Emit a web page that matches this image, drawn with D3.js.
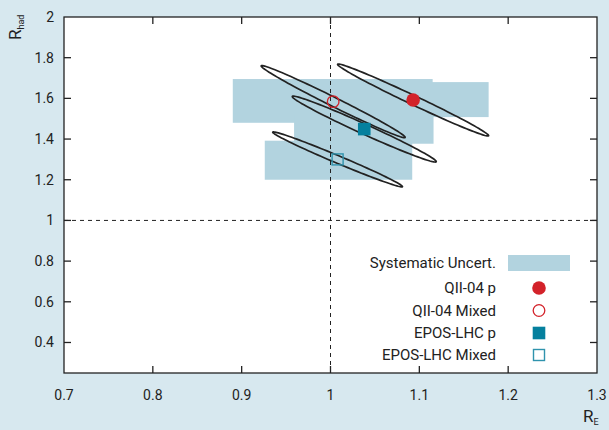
<!DOCTYPE html>
<html><head><meta charset="utf-8">
<script src="https://cdn.jsdelivr.net/npm/d3@7"></script>
<style>
html,body{margin:0;padding:0;background:#d7e8ef;}
svg{display:block;font-family:Roboto,"DejaVu Sans",sans-serif;}
</style></head>
<body>
<svg id="chart" width="609" height="430"></svg>
<script>
// ---- data ----
const series = ["QII-04 p", "QII-04 Mixed", "EPOS-LHC p", "EPOS-LHC Mixed"];
const rE   = [1.093, 1.003, 1.038, 1.008];
const rHad = [1.592, 1.584, 1.449, 1.300];
// systematic uncertainty boxes
const sysXLow  = [1.007, 0.890, 0.959, 0.926];
const sysXHigh = [1.178, 1.115, 1.116, 1.092];
const sysYLow  = [1.508, 1.480, 1.377, 1.200];
const sysYHigh = [1.680, 1.695, 1.522, 1.392];
// statistical ellipses (sigma x, sigma y, correlation)
const ellSx  = [0.085, 0.081, 0.081, 0.073];
const ellSy  = [0.177, 0.177, 0.162, 0.135];
const ellRho = [-0.990, -0.990, -0.986, -0.989];
const xTicks = [0.7, 0.8, 0.9, 1, 1.1, 1.2, 1.3];
const yTicks = [0.4, 0.6, 0.8, 1, 1.2, 1.4, 1.6, 1.8, 2];
const legendLabels = ["Systematic Uncert.", "QII-04 p", "QII-04 Mixed", "EPOS-LHC p", "EPOS-LHC Mixed"];

// ---- layout ----
const L = 64, R = 597, T = 17, B = 373;
const red = "#d3222a", teal = "#05809e", tealLight = "#2f93ad", sysCol = "#b2d3df";
const svg = d3.select("#chart");
const x = d3.scaleLinear().domain([0.7, 1.3]).range([L, R]);
const y = d3.scaleLinear().domain([0.25, 2]).range([B, T]);

svg.append("rect").attr("width", 609).attr("height", 430).attr("fill", "#d7e8ef");
svg.append("rect").attr("x", L).attr("y", T).attr("width", R - L).attr("height", B - T).attr("fill", "#fff");

// systematic boxes
const idx = d3.range(series.length);
svg.append("g").selectAll("rect").data(idx).join("rect")
  .attr("x", i => x(sysXLow[i])).attr("width", i => x(sysXHigh[i]) - x(sysXLow[i]))
  .attr("y", i => y(sysYHigh[i])).attr("height", i => y(sysYLow[i]) - y(sysYHigh[i]))
  .attr("fill", sysCol);

// dashed reference lines
svg.append("line").attr("x1", x(1)).attr("x2", x(1)).attr("y1", T).attr("y2", B)
  .attr("stroke", "#222").attr("stroke-width", 1).attr("stroke-dasharray", "4,4");
svg.append("line").attr("x1", L).attr("x2", R).attr("y1", y(1)).attr("y2", y(1))
  .attr("stroke", "#222").attr("stroke-width", 1).attr("stroke-dasharray", "4,4");

// ellipses
const line = d3.line().x(d => x(d[0])).y(d => y(d[1]));
svg.append("g").selectAll("path").data(idx).join("path")
  .attr("d", i => {
    const pts = d3.range(0, 361, 3).map(a => {
      const t = a * Math.PI / 180;
      return [rE[i] + ellSx[i] * Math.cos(t),
              rHad[i] + ellSy[i] * (ellRho[i] * Math.cos(t) + Math.sqrt(1 - ellRho[i] * ellRho[i]) * Math.sin(t))];
    });
    return line(pts) + "Z";
  })
  .attr("fill", "none").attr("stroke", "#222").attr("stroke-width", 1.7);

// markers
function drawMarker(g, i, cx, cy) {
  if (i === 0) g.append("circle").attr("cx", cx).attr("cy", cy).attr("r", 6.8).attr("fill", red);
  else if (i === 1) g.append("circle").attr("cx", cx).attr("cy", cy).attr("r", 5.8).attr("fill", "none").attr("stroke", red).attr("stroke-width", 1.3);
  else if (i === 2) g.append("rect").attr("x", cx - 6.3).attr("y", cy - 6.3).attr("width", 12.6).attr("height", 12.6).attr("fill", teal);
  else g.append("rect").attr("x", cx - 5.5).attr("y", cy - 5.5).attr("width", 11).attr("height", 11).attr("fill", "none").attr("stroke", tealLight).attr("stroke-width", 1.4);
}
const mg = svg.append("g");
idx.forEach(i => drawMarker(mg, i, x(rE[i]), y(rHad[i])));

// axes frame and ticks
const axG = svg.append("g").attr("stroke", "#222").attr("stroke-width", 1.3);
axG.append("rect").attr("x", L).attr("y", T).attr("width", R - L).attr("height", B - T).attr("fill", "none");
const tl = 7;
xTicks.slice(1, -1).forEach(v => {
  axG.append("line").attr("x1", x(v)).attr("x2", x(v)).attr("y1", B).attr("y2", B - tl);
  axG.append("line").attr("x1", x(v)).attr("x2", x(v)).attr("y1", T).attr("y2", T + tl);
});
yTicks.slice(0, -1).forEach(v => {
  axG.append("line").attr("x1", L).attr("x2", L + tl).attr("y1", y(v)).attr("y2", y(v));
  axG.append("line").attr("x1", R).attr("x2", R - tl).attr("y1", y(v)).attr("y2", y(v));
});

// tick labels
svg.append("g").selectAll("text").data(xTicks).join("text")
  .attr("x", d => x(d)).attr("y", 400).attr("text-anchor", "middle")
  .attr("font-size", 14).attr("fill", "#222").text(d => d3.format("")(d));
svg.append("g").selectAll("text").data(yTicks).join("text")
  .attr("x", 54).attr("y", d => y(d) + 5).attr("text-anchor", "end")
  .attr("font-size", 14).attr("fill", "#222").text(d => d3.format("")(d));

// axis titles
const yt = svg.append("text").attr("transform", "translate(21,40) rotate(-90)").attr("fill", "#222");
yt.append("tspan").attr("font-size", 17).text("R");
yt.append("tspan").attr("font-size", 9).attr("dy", 3).text("had");
const xt = svg.append("text").attr("x", 583).attr("y", 422).attr("fill", "#222");
xt.append("tspan").attr("font-size", 17).text("R");
xt.append("tspan").attr("font-size", 9).attr("dy", 3).text("E");

// legend
const lg = svg.append("g");
const rowY = [263, 288, 310.5, 333, 355];
legendLabels.forEach((lab, k) => {
  lg.append("text").attr("x", 496).attr("y", rowY[k] + 5).attr("text-anchor", "end")
    .attr("font-size", 15).attr("fill", "#222").text(lab);
  if (k === 0) lg.append("rect").attr("x", 508).attr("y", rowY[k] - 8).attr("width", 62).attr("height", 16).attr("fill", sysCol);
  else drawMarker(lg, k - 1, 539, rowY[k]);
});
</script>
</body></html>
